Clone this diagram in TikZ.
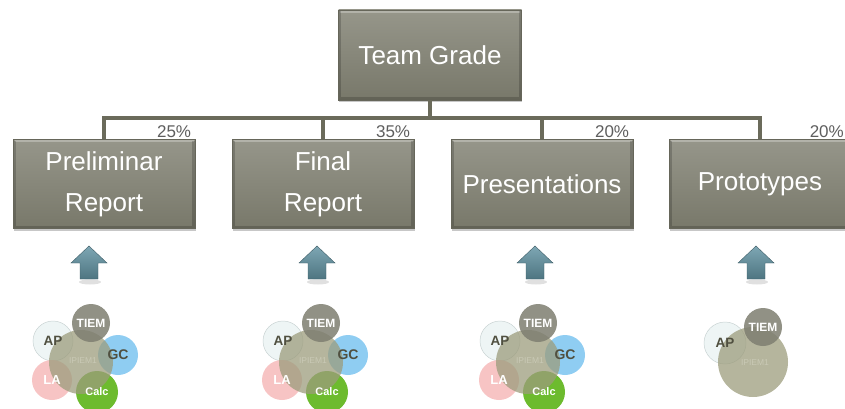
\documentclass[tikz,border=0pt]{standalone}
\usepackage{fontspec}
\setmainfont{Liberation Sans}
\usetikzlibrary{shadows}
\definecolor{boxtop}{HTML}{96968A}
\definecolor{boxbot}{HTML}{78786A}
\definecolor{boxedge}{HTML}{66665A}
\definecolor{linecol}{HTML}{6B6B5B}
\definecolor{pctcol}{HTML}{5E5E5E}
\definecolor{arrtop}{HTML}{7EA7B4}
\definecolor{arrbot}{HTML}{4E7581}
\definecolor{apfill}{HTML}{EEF5F5}
\definecolor{apedge}{HTML}{C9D3D3}
\definecolor{aptext}{HTML}{505040}
\definecolor{gcfill}{HTML}{8FCDF2}
\definecolor{lafill}{HTML}{F7C4C4}
\definecolor{calcfill}{HTML}{6DBB2E}
\definecolor{tiemfill}{HTML}{7E7E70}
\definecolor{bigfill}{HTML}{9C9C7C}
\definecolor{ipiemcol}{HTML}{C9C9B5}
\tikzset{
  gradebox/.style={rectangle, draw=boxedge, line width=0.6pt, top color=boxtop, bottom color=boxbot,
    text=white, font=\fontsize{26}{41}\selectfont, align=center, inner sep=0pt,
    minimum width=182pt, minimum height=89pt,
    drop shadow={shadow xshift=0.5pt, shadow yshift=-2.5pt, opacity=0.22, fill=black},
    path picture={
      \draw[white, opacity=0.28, line width=2.5pt]
        ([xshift=1.5pt,yshift=-1.5pt]path picture bounding box.north west) --
        ([xshift=-1.5pt,yshift=-1.5pt]path picture bounding box.north east);
      \draw[black, opacity=0.18, line width=2.5pt]
        ([xshift=-1.5pt,yshift=-1.5pt]path picture bounding box.north east) --
        ([xshift=-1.5pt,yshift=1.5pt]path picture bounding box.south east) --
        ([xshift=1.5pt,yshift=1.5pt]path picture bounding box.south west) --
        ([xshift=1.5pt,yshift=-1.5pt]path picture bounding box.north west);
    }},
  bus/.style={draw=linecol, line width=4pt, line join=miter},
  pct/.style={text=pctcol, font=\fontsize{17}{17}\selectfont, anchor=base east, inner sep=0pt},
  circ/.style={circle, inner sep=0pt},
  ctext/.style={font=\bfseries\fontsize{12}{12}\selectfont, inner sep=0pt},
  uparrow/.style={top color=arrtop, bottom color=arrbot, draw=arrbot!80!black, line width=0.4pt}
}
\newcommand\upblock[2]{%
  \fill[black, opacity=0.12] (#2+1,282) ellipse (11pt and 2.5pt);
  \path[uparrow] (#2,246) -- (#2+18,263) -- (#2+9,263) -- (#2+9,279) -- (#2-9,279) -- (#2-9,263) -- (#2-18,263) -- cycle;
}
\newcommand\fivecluster[2]{%
  \begin{scope}[shift={(#2,0)}]
    \node[circ, draw=apedge, line width=0.5pt, fill=apfill, minimum size=40pt] (#1ap) at (-28,341) {};
    \node[circ, fill=lafill, minimum size=40pt] (#1la) at (-29,380) {};
    \node[circ, fill=gcfill, minimum size=40pt] (#1gc) at (37,355) {};
    \node[circ, fill=calcfill, minimum size=42pt] (#1calc) at (16,392) {};
    \node[circ, fill=bigfill, fill opacity=0.75, minimum size=64pt] (#1big) at (0,362) {};
    \node[circ, fill=tiemfill, fill opacity=0.85, minimum size=38pt] (#1tiem) at (10,323) {};
    \node[ctext, text=white] (#1tiemt) at (#1tiem.center) {TIEM};
    \node[ctext, text=aptext, font=\bfseries\fontsize{13.5}{13.5}\selectfont] (#1apt) at (#1ap.center) {AP};
    \node[ctext, text=aptext, font=\bfseries\fontsize{14}{14}\selectfont] (#1gct) at (#1gc.center) {GC};
    \node[ctext, text=white, font=\bfseries\fontsize{13}{13}\selectfont] (#1lat) at (#1la.center) {LA};
    \node[ctext, text=white, font=\bfseries\fontsize{11}{11}\selectfont] (#1calct) at (#1calc.center) {Calc};
    \node[text=ipiemcol, font=\fontsize{8.5}{8.5}\selectfont, inner sep=0pt] (#1ipt) at (2,361) {IPIEM1};
  \end{scope}
}
\begin{document}
\begin{tikzpicture}[x=1pt, y=-1pt]
\useasboundingbox (0,0) rectangle (845,409);

% boxes
\node[gradebox, minimum width=183pt, minimum height=90pt] (tg) at (430,55) {Team Grade};
\node[gradebox] (c1) at (104,184) {Preliminar\\Report};
\node[gradebox] (c2) at (323,184) {Final\\Report};
\node[gradebox] (c3) at (542,184) {Presentations};
\node[gradebox] (c4) at (760,184) {Prototypes};

% connectors
\coordinate (busy) at (430,118);
\draw[bus] (tg.south) -- (tg.south |- busy);
\draw[bus] (c1.north) -- (c1.north |- busy) -- (c4.north |- busy) -- (c4.north);
\draw[bus] (c2.north) -- (c2.north |- busy);
\draw[bus] (c3.north) -- (c3.north |- busy);

% percentages
\node[pct] (p1) at ([xshift=-4pt, yshift=2pt]c1.north east) {25\%};
\node[pct] (p2) at ([xshift=-4pt, yshift=2pt]c2.north east) {35\%};
\node[pct] (p3) at ([xshift=-4pt, yshift=2pt]c3.north east) {20\%};
\node[pct] (p4) at (844,137) {20\%};

% arrows
\upblock{a1}{89}
\upblock{a2}{317}
\upblock{a3}{535}
\upblock{a4}{756}

% clusters
\fivecluster{k1}{81}
\fivecluster{k2}{311}
\fivecluster{k3}{528}

% fourth cluster
\node[circ, draw=apedge, line width=0.5pt, fill=apfill, minimum size=42pt] (k4ap) at (725,343) {};
\node[circ, fill=bigfill, fill opacity=0.75, minimum size=70pt] (k4big) at (753,362) {};
\node[circ, fill=tiemfill, fill opacity=0.85, minimum size=38pt] (k4tiem) at (763,327) {};
\node[ctext, text=white] (k4tiemt) at (k4tiem.center) {TIEM};
\node[ctext, text=aptext, font=\bfseries\fontsize{13.5}{13.5}\selectfont] (k4apt) at (k4ap.center) {AP};
\node[text=ipiemcol, font=\fontsize{8.5}{8.5}\selectfont, inner sep=0pt] (k4ipt) at (755,363) {IPIEM1};
\end{tikzpicture}
\end{document}
